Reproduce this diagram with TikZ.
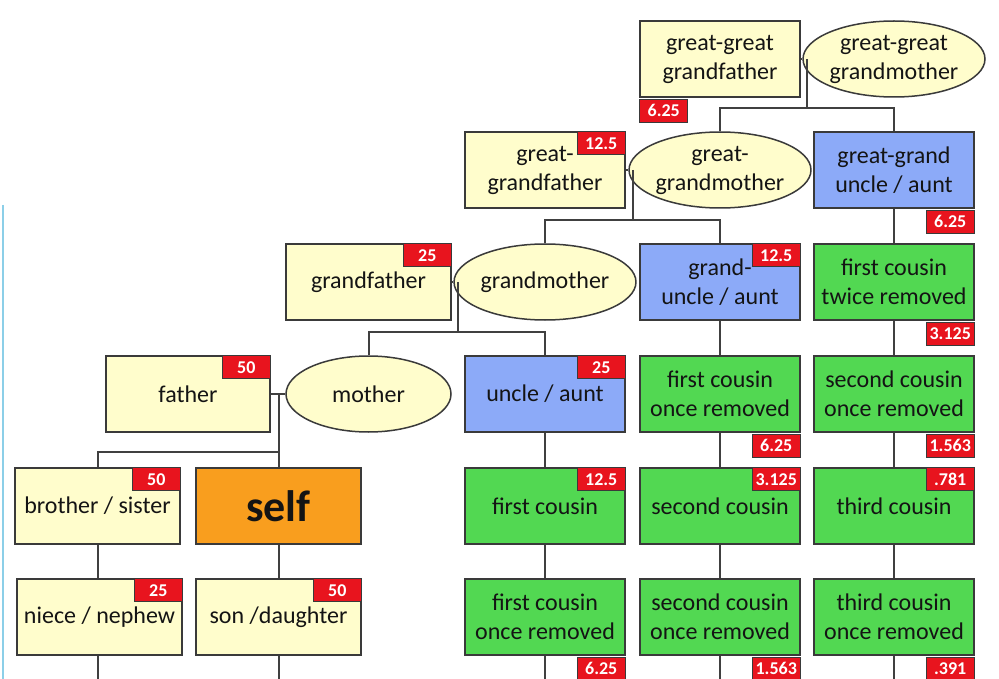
\documentclass[tikz,border=0pt]{standalone}
\usepackage{fontspec}
\setmainfont{Carlito}
\usetikzlibrary{shapes.geometric}
\definecolor{yel}{HTML}{FFFDCC}
\definecolor{blu}{HTML}{8CAAF8}
\definecolor{grn}{HTML}{52D852}
\definecolor{org}{HTML}{F99E1E}
\definecolor{bred}{HTML}{E8141E}
\definecolor{lin}{HTML}{404040}
\definecolor{edge}{HTML}{3A3A3A}
\definecolor{txt}{HTML}{141414}
\definecolor{sideblue}{HTML}{8CCFE8}
\tikzset{
  base/.style={draw=edge, line width=1.5pt, minimum width=160pt, minimum height=76pt, inner sep=0pt,
    align=center, text=txt, font=\fontsize{24}{29}\selectfont},
  ybox/.style={base, rectangle, fill=yel},
  yell/.style={base, ellipse, fill=yel, minimum width=162pt},
  bbox/.style={base, rectangle, fill=blu},
  gbox/.style={base, rectangle, fill=grn},
  obox/.style={base, rectangle, fill=org, font=\bfseries\fontsize{44}{50}\selectfont},
  badge/.style={rectangle, fill=bred, draw=edge, line width=1pt, minimum width=48pt, minimum height=23pt,
    inner sep=0pt, text=white, font=\bfseries\fontsize{18}{19}\selectfont},
  conn/.style={draw=lin, line width=2pt}
}
\begin{document}
\begin{tikzpicture}[x=1pt,y=-1pt]
\useasboundingbox (0,0) rectangle (999,679);
\fill[white] (0,0) rectangle (999,679);
\draw[sideblue, line width=2pt] (3,205) -- (3,679);

% row 1
\node[ybox] (ggf) at (720,59) {great-great\\grandfather};
\node[yell] (ggm) at (894,59) {great-great\\grandmother};
% row 2
\node[ybox] (gf) at (545,170) {great-\\grandfather};
\node[yell] (gm) at (720,170) {great-\\grandmother};
\node[bbox] (ggu) at (894,170) {great-grand\\uncle / aunt};
% row 3
\node[ybox, minimum width=165pt] (gpf) at (368.5,282) {grandfather};
\node[yell] (gpm) at (545,282) {grandmother};
\node[bbox] (gu) at (720,282) {grand-\\uncle / aunt};
\node[gbox] (fc2r) at (894,282) {first cousin\\twice removed};
% row 4
\node[ybox, minimum width=164pt] (fa) at (188,394) {father};
\node[yell, minimum width=165pt] (mo) at (368.5,394) {mother};
\node[bbox] (un) at (545,394) {uncle / aunt};
\node[gbox] (fc1r) at (720,394) {first cousin\\once removed};
\node[gbox] (sc1r) at (894,394) {second cousin\\once removed};
% row 5
\node[ybox, minimum width=165pt] (sib) at (97.5,506) {brother / sister};
\node[obox, minimum width=165pt] (self) at (278.5,506) {self};
\node[gbox] (fc) at (545,506) {first cousin};
\node[gbox] (sc) at (720,506) {second cousin};
\node[gbox] (tc) at (894,506) {third cousin};
% row 6
\node[ybox, minimum width=165pt] (nn) at (99.5,617) {niece / nephew};
\node[ybox, minimum width=165pt] (son) at (278.5,617) {son /daughter};
\node[gbox] (fc1rb) at (545,617) {first cousin\\once removed};
\node[gbox] (sc1rb) at (720,617) {second cousin\\once removed};
\node[gbox] (tc1rb) at (894,617) {third cousin\\once removed};

% badges
\node[badge, anchor=north west] (b1) at ([yshift=-1pt]ggf.south west) {6.25};
\node[badge, anchor=north east] (b2) at (gf.north east) {12.5};
\node[badge, anchor=north east] (b3) at ([yshift=-1pt]ggu.south east) {6.25};
\node[badge, anchor=north east] (b4) at (gpf.north east) {25};
\node[badge, anchor=north east] (b5) at (gu.north east) {12.5};
\node[badge, anchor=north east] (b6) at ([yshift=-1pt]fc2r.south east) {3.125};
\node[badge, anchor=north east] (b7) at (fa.north east) {50};
\node[badge, anchor=north east] (b8) at (un.north east) {25};
\node[badge, anchor=north east] (b9) at ([yshift=-1pt]fc1r.south east) {6.25};
\node[badge, anchor=north east] (b10) at ([yshift=-1pt]sc1r.south east) {1.563};
\node[badge, anchor=north east] (b11) at (sib.north east) {50};
\node[badge, anchor=north east] (b12) at (fc.north east) {12.5};
\node[badge, anchor=north east] (b13) at (sc.north east) {3.125};
\node[badge, anchor=north east] (b14) at (tc.north east) {.781};
\node[badge, anchor=north east] (b15) at (nn.north east) {25};
\node[badge, anchor=north east] (b16) at (son.north east) {50};
\node[badge, anchor=north east] (b17) at ([yshift=-1pt]fc1rb.south east) {6.25};
\node[badge, anchor=north east] (b18) at ([yshift=-1pt]sc1rb.south east) {1.563};
\node[badge, anchor=north east] (b19) at ([yshift=-1pt]tc1rb.south east) {.391};

% couple junctions
\coordinate (j1) at (807,59);   \coordinate (h1) at (807,108);
\coordinate (j2) at (632.5,170); \coordinate (h2) at (632.5,220);
\coordinate (j3) at (458,282);  \coordinate (h3) at (458,332);
\coordinate (j4) at (278.5,394); \coordinate (h4) at (278.5,452);

\path[conn] (ggf.east) -- (ggm.west);
\path[conn] (j1) -- (h1);
\path[conn] (gm.north) -- (gm.north |- h1) -- (ggu.north |- h1) -- (ggu.north);

\path[conn] (gf.east) -- (gm.west);
\path[conn] (j2) -- (h2);
\path[conn] (gpm.north) -- (gpm.north |- h2) -- (gu.north |- h2) -- (gu.north);

\path[conn] (gpf.east) -- (gpm.west);
\path[conn] (j3) -- (h3);
\path[conn] (mo.north) -- (mo.north |- h3) -- (un.north |- h3) -- (un.north);

\path[conn] (fa.east) -- (mo.west);
\path[conn] (j4) -- (self.north);
\path[conn] (sib.north) -- (sib.north |- h4) -- (h4);

% vertical descents
\path[conn] (ggu.south) -- (fc2r.north);
\path[conn] (fc2r.south) -- (sc1r.north);
\path[conn] (sc1r.south) -- (tc.north);
\path[conn] (tc.south) -- (tc1rb.north);
\path[conn] (gu.south) -- (fc1r.north);
\path[conn] (fc1r.south) -- (sc.north);
\path[conn] (sc.south) -- (sc1rb.north);
\path[conn] (un.south) -- (fc.north);
\path[conn] (fc.south) -- (fc1rb.north);
\path[conn] (sib.south) -- (sib.south |- nn.north);
\path[conn] (self.south) -- (son.north);

\coordinate (e1) at (sib.south |- 0,679);
\coordinate (e2) at (son.south |- 0,679);
\coordinate (e3) at (fc1rb.south |- 0,679);
\coordinate (e4) at (sc1rb.south |- 0,679);
\coordinate (e5) at (tc1rb.south |- 0,679);
\path[conn] (sib.south |- nn.south) -- (e1);
\path[conn] (son.south) -- (e2);
\path[conn] (fc1rb.south) -- (e3);
\path[conn] (sc1rb.south) -- (e4);
\path[conn] (tc1rb.south) -- (e5);
\end{tikzpicture}
\end{document}
